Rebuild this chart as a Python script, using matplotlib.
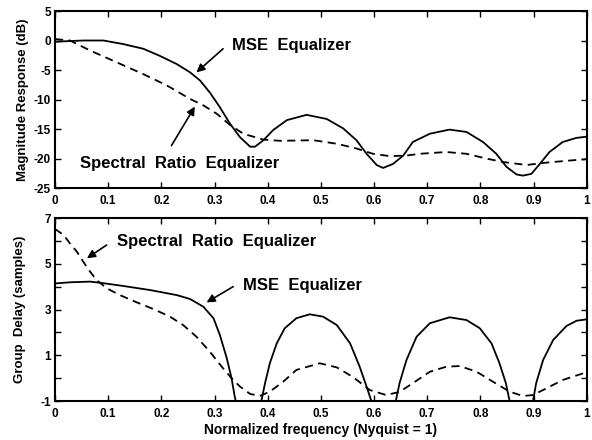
import matplotlib
matplotlib.use("Agg")
import matplotlib.pyplot as plt

plt.rcParams['font.family'] = ['Liberation Sans', 'DejaVu Sans']
plt.rcParams['font.weight'] = 'bold'

# ---- Top panel: magnitude response (dB) ----
mag_mse_x = [0.0, 0.053, 0.091, 0.128, 0.166, 0.197, 0.229, 0.254, 0.273, 0.291, 0.31, 0.329,
             0.348, 0.367, 0.376, 0.392, 0.41, 0.436, 0.473, 0.511, 0.542, 0.567, 0.586,
             0.605, 0.617, 0.636, 0.655, 0.673, 0.705, 0.742, 0.774, 0.805, 0.830, 0.849,
             0.868, 0.880, 0.896, 0.912, 0.930, 0.955, 0.981, 1.0]
mag_mse_y = [-0.2, 0.0, 0.0, -0.6, -1.4, -2.6, -4.0, -5.4, -6.8, -8.8, -11.3, -14.1,
             -16.4, -18.0, -18.0, -16.9, -15.2, -13.5, -12.6, -13.3, -14.9, -16.9, -19.2,
             -21.1, -21.6, -20.9, -19.5, -17.2, -15.8, -15.1, -15.5, -17.2, -19.2, -21.4,
             -22.7, -22.9, -22.6, -20.9, -18.9, -17.2, -16.5, -16.3]

mag_sr_x = [0.0, 0.028, 0.066, 0.116, 0.166, 0.21, 0.254, 0.279, 0.304, 0.329, 0.354, 0.392,
            0.423, 0.486, 0.530, 0.567, 0.598, 0.63, 0.661, 0.686, 0.736, 0.774, 0.811,
            0.843, 0.887, 0.924, 0.961, 1.0]
mag_sr_y = [0.25, 0.0, -1.7, -3.7, -5.7, -7.6, -9.9, -11.0, -12.4, -14.3, -15.8, -16.8,
            -17.0, -16.9, -17.5, -18.3, -19.2, -19.6, -19.5, -19.2, -18.9, -19.2, -20.0,
            -20.6, -21.1, -20.7, -20.4, -20.1]

# ---- Bottom panel: group delay (samples) ----
gd_mse_x = [0.0, 0.028, 0.066, 0.085, 0.128, 0.179, 0.229, 0.254, 0.279, 0.298, 0.31,
            0.323, 0.332, 0.338, 0.340, 0.345, 0.383, 0.388, 0.395, 0.404, 0.417, 0.432,
            0.454, 0.479, 0.504, 0.530, 0.555, 0.573, 0.586, 0.595, 0.600, 0.636, 0.641,
            0.648, 0.661, 0.680, 0.705, 0.742, 0.774, 0.799, 0.821, 0.836, 0.848, 0.855,
            0.860, 0.894, 0.899, 0.905, 0.918, 0.937, 0.962, 0.981, 1.0]
gd_mse_y = [4.14, 4.19, 4.22, 4.17, 4.03, 3.85, 3.63, 3.46, 3.12, 2.62, 1.89,
            0.87, 0.0, -0.81, -1.0, -2.0, -2.0, -1.0, -0.22, 0.65, 1.52, 2.18,
            2.62, 2.79, 2.69, 2.32, 1.52, 0.50, -0.37, -1.0, -2.0, -2.0, -1.0,
            -0.22, 0.79, 1.81, 2.40, 2.66, 2.54, 2.18, 1.52, 0.65, -0.22, -1.0,
            -2.0, -2.0, -1.0, -0.22, 0.79, 1.67, 2.28, 2.51, 2.57]

gd_sr_x = [0.0, 0.016, 0.028, 0.041, 0.053, 0.066, 0.078, 0.097, 0.122, 0.154, 0.185, 0.216,
           0.241, 0.266, 0.291, 0.316, 0.335, 0.348, 0.367, 0.385, 0.404, 0.429, 0.454,
           0.498, 0.530, 0.561, 0.592, 0.623, 0.648, 0.673, 0.705, 0.736, 0.761, 0.793,
           0.824, 0.855, 0.880, 0.899, 0.924, 0.955, 1.0]
gd_sr_y = [6.52, 6.26, 5.89, 5.53, 5.09, 4.65, 4.29, 3.93, 3.63, 3.31, 3.02, 2.69,
           2.32, 1.81, 1.16, 0.43, -0.08, -0.37, -0.69, -0.78, -0.59, -0.16, 0.36,
           0.65, 0.47, 0.04, -0.52, -0.74, -0.60, -0.22, 0.28, 0.50, 0.53, 0.28,
           -0.16, -0.59, -0.78, -0.74, -0.45, -0.08, 0.26]

x_ticks = [0, 0.1, 0.2, 0.3, 0.4, 0.5, 0.6, 0.7, 0.8, 0.9, 1]
x_ticklabels = ['0', '0.1', '0.2', '0.3', '0.4', '0.5', '0.6', '0.7', '0.8', '0.9', '1']
mag_ticks = [5, 0, -5, -10, -15, -20, -25]
mag_ticklabels = ['5', '0', '-5', '-10', '-15', '-20', '-25']
gd_ticks = [7, 6, 5, 4, 3, 2, 1, 0, -1]
gd_ticklabels = ['7', '', '5', '', '3', '', '1', '', '-1']

fig = plt.figure(figsize=(5.92, 4.40), dpi=100)
ax1 = fig.add_axes([0.093, 0.5727, 0.898, 0.4023])
ax2 = fig.add_axes([0.093, 0.0886, 0.898, 0.4159])

lw = 1.3
dash = (0, (4.5, 3))
ax1.plot(mag_mse_x, mag_mse_y, color='black', lw=lw)
ax1.plot(mag_sr_x, mag_sr_y, color='black', lw=lw, ls=dash)
ax2.plot(gd_mse_x, gd_mse_y, color='black', lw=lw)
ax2.plot(gd_sr_x, gd_sr_y, color='black', lw=lw, ls=dash)

ax1.set_xlim(0, 1)
ax1.set_ylim(-25, 5)
ax2.set_xlim(0, 1)
ax2.set_ylim(-1, 7)

for ax in (ax1, ax2):
    ax.set_xticks(x_ticks)
    ax.set_xticklabels(x_ticklabels, fontsize=8.5, fontweight='bold')
    ax.tick_params(direction='in', top=True, right=True, length=4, width=1)
    ax.tick_params(axis='x', pad=5)
    ax.tick_params(axis='y', pad=3)
    for s in ax.spines.values():
        s.set_linewidth(1.5)

ax1.set_yticks(mag_ticks)
ax1.set_yticklabels(mag_ticklabels, fontsize=8.5, fontweight='bold')
ax2.set_yticks(gd_ticks)
ax2.set_yticklabels(gd_ticklabels, fontsize=8.5, fontweight='bold')

ax1.set_ylabel('Magnitude Response (dB)', fontsize=9.5, fontweight='bold', labelpad=3)
ax2.set_ylabel('Group  Delay (samples)', fontsize=9.5, fontweight='bold', labelpad=10)
ax2.set_xlabel('Normalized frequency (Nyquist = 1)', fontsize=10, fontweight='bold', labelpad=2)

arrow = dict(arrowstyle='-|>', color='black', lw=1.2, mutation_scale=12,
             shrinkA=0, shrinkB=0)
txt = dict(fontsize=12, fontweight='bold', va='center', ha='left')

# top panel labels and arrows
ax1.text(0.333, -0.8, 'MSE  Equalizer', **txt)
ax1.annotate('', xy=(0.266, -5.4), xytext=(0.316, -1.4), arrowprops=arrow)
ax1.text(0.047, -20.9, 'Spectral  Ratio  Equalizer', **txt)
ax1.annotate('', xy=(0.263, -11.2), xytext=(0.219, -17.8), arrowprops=arrow)

# bottom panel labels and arrows
ax2.text(0.117, 5.96, 'Spectral  Ratio  Equalizer', **txt)
ax2.annotate('', xy=(0.060, 5.24), xytext=(0.097, 5.82), arrowprops=arrow)
ax2.text(0.353, 4.07, 'MSE  Equalizer', **txt)
ax2.annotate('', xy=(0.285, 3.31), xytext=(0.335, 4.0), arrowprops=arrow)

fig.savefig('out.png', dpi=100)
